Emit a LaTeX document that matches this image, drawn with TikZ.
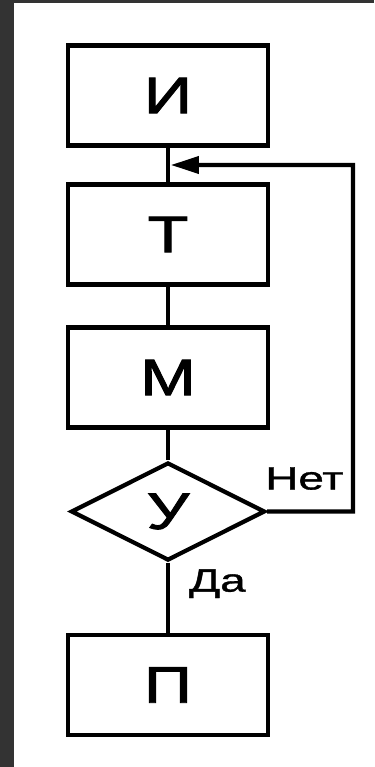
\documentclass[tikz,border=0pt]{standalone}
\usepackage{fontspec}
\setmainfont{Liberation Sans}
\newfontfamily\spesso[FakeBold=1.6]{Liberation Sans}
\newfontfamily\medio[FakeBold=1]{Liberation Sans}
\usetikzlibrary{shapes.geometric, arrows.meta, calc}
\definecolor{cornice}{HTML}{333333}
\newcommand{\largo}[1]{\scalebox{1.3}[1]{#1}}
\newcommand{\largolab}[1]{\scalebox{1.42}[1]{#1}}

\begin{document}
\begin{tikzpicture}[x = 0.025cm, y = -0.025cm, line width = 3pt,
    blocco/.style = {draw, rectangle, minimum width = 4.98cm, minimum height = 2.5cm, inner sep = 0pt, font = \fontsize{36.5}{40}\spesso},
    scelta/.style = {draw, diamond, minimum width = 4.85cm, minimum height = 2.45cm, inner sep = 0pt, font = \fontsize{36.5}{40}\spesso},
    etichetta/.style = {inner sep = 0pt, font = \fontsize{23}{25}\medio}]
    % Sfondo e cornice
    \useasboundingbox (0,0) rectangle (374,767);
    \fill[white] (0,0) rectangle (374,767);
    \fill[cornice] (0,0) rectangle (14,767);
    \fill[cornice] (0,0) rectangle (374,3);
    % Blocchi
    \node[blocco] (I) at (168,95.5) {\largo{И}};
    \node[blocco] (T) at (168,234.5) {\largo{Т}};
    \node[blocco] (M) at (168,377.5) {\largo{М}};
    \node[scelta] (U) at (168,511.5) {\largo{У}};
    \node[blocco] (P) at (168,685) {\largo{П}};
    % Punti d'interesse
    \coordinate (nodo) at ($(I.south)!0.5!(T.north)$);
    \coordinate (giro) at (353,165);
    % Collegamenti
    \draw (I) -- (T);
    \draw (T) -- (M);
    \draw (M) -- (U);
    \draw (U) -- (P);
    \draw[line join = miter, -{Triangle[length = 0.7cm, width = 0.42cm]}] (U.east) -| (giro) -- ([xshift = 2pt]nodo);
    % Etichette
    \node[etichetta, anchor = base west] (no) at ($(U.east)+(-4,-22)$) {\largolab{Нет}};
    \node[etichetta, anchor = base west] (si) at ($(U.south)+(19,29)$) {\largolab{Да}};
\end{tikzpicture}
\end{document}
